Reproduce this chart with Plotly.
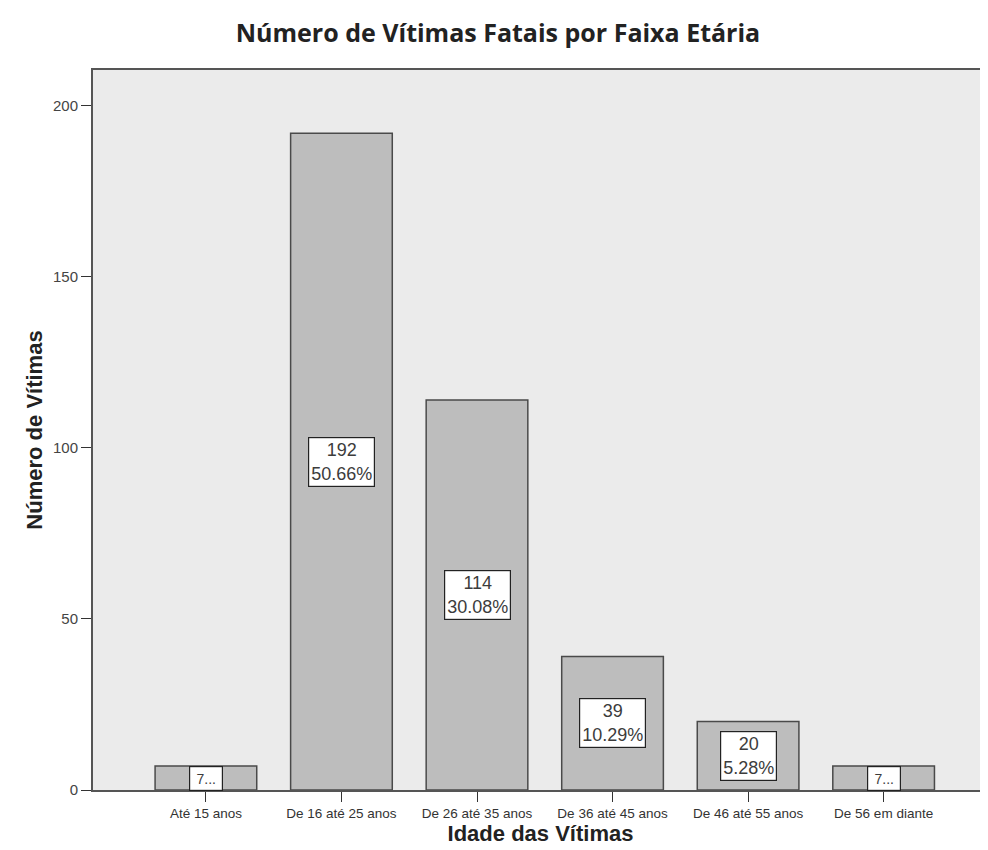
import plotly.graph_objects as go

categories = ["Até 15 anos", "De 16 até 25 anos", "De 26 até 35 anos",
              "De 36 até 45 anos", "De 46 até 55 anos", "De 56 em diante"]
counts = [7, 192, 114, 39, 20, 7]
bar_labels = ["7...", "192<br>50.66%", "114<br>30.08%", "39<br>10.29%", "20<br>5.28%", "7..."]
y_ticks = [0, 50, 100, 150, 200]

# page body has an 8px margin, so the figure is sized to fit the window
W, H = 980, 842
fig = go.Figure()
fig.add_trace(go.Bar(
    x=list(range(len(categories))), y=counts, width=0.75,
    marker=dict(color="#bdbdbd", line=dict(color="#4a4a4a", width=1.5)),
    hoverinfo="skip",
))

annotations = []
for i, (v, lab) in enumerate(zip(counts, bar_labels)):
    small = v < 10
    annotations.append(dict(
        x=i, y=v / 2, xref="x", yref="y", text=lab, showarrow=False,
        font=dict(family="Liberation Sans, Arial", size=14 if small else 18, color="#3c3c3c"),
        bgcolor="white", bordercolor="#222", borderwidth=1.2,
        borderpad=1 if small else 2,
        width=30 if small else None, height=21 if small else None,
        align="center", xanchor="center", yanchor="middle",
    ))

fig.update_layout(
    width=W, height=H,
    margin=dict(l=85, r=0, t=62, b=60),
    paper_bgcolor="white", plot_bgcolor="#ebebeb",
    showlegend=False,
    title=dict(text="<b>Número de Vítimas Fatais por Faixa Etária</b>",
               x=0.5, xanchor="center", y=1 - 25 / H, yanchor="middle",
               font=dict(family="Open Sans", size=25, color="#222")),
    xaxis=dict(
        range=[-0.833, 5.77], tickmode="array",
        tickvals=list(range(len(categories))), ticktext=categories,
        ticks="outside", ticklen=10, tickwidth=1.2, tickcolor="#333",
        showline=True, linecolor="#555", linewidth=2, mirror=True,
        showgrid=False, zeroline=False,
        tickfont=dict(family="Liberation Sans, Arial", size=13.5, color="#333"),
        title=dict(text="<b>Idade das Vítimas</b>", standoff=2,
                   font=dict(family="Liberation Sans, Arial", size=22, color="#222")),
    ),
    yaxis=dict(
        range=[0, 210.5], tickmode="array", tickvals=y_ticks,
        ticks="outside", ticklen=10, tickwidth=1.2, tickcolor="#333",
        showline=True, linecolor="#555", linewidth=2, mirror=False,
        showgrid=False, zeroline=False,
        tickfont=dict(family="Liberation Sans, Arial", size=15, color="#444"),
        title=dict(text="<b>Número de Vítimas</b>", standoff=4,
                   font=dict(family="Liberation Sans, Arial", size=22, color="#222")),
    ),
    annotations=annotations,
)

fig.write_html("out.html")
